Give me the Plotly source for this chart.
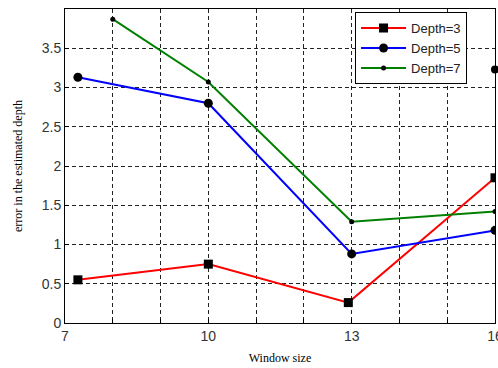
import plotly.graph_objects as go

window = [7.27, 10, 12.93, 16]
depth3 = [0.55, 0.75, 0.26, 1.85]
win5 = [7.27, 10, 13, 16]
depth5 = [3.13, 2.80, 0.88, 1.18]
win7 = [8, 10, 13, 16]
depth7 = [3.87, 3.07, 1.29, 1.42]
extra_x = [16]
extra_y = [3.23]

xtick_vals = list(range(7, 17))
xtick_text = ["7", "", "", "10", "", "", "13", "", "", "16"]
ytick_vals = [0, 0.5, 1, 1.5, 2, 2.5, 3, 3.5, 4]
ytick_text = ["0", "0.5", "1", "1.5", "2", "2.5", "3", "3.5", ""]

fig = go.Figure()
fig.add_trace(go.Scatter(x=window, y=depth3, mode="lines+markers", name="Depth=3",
                         line=dict(color="#ff0000", width=2),
                         marker=dict(symbol="square", size=9, color="black")))
fig.add_trace(go.Scatter(x=win5, y=depth5, mode="lines+markers", name="Depth=5",
                         line=dict(color="#0000ff", width=2),
                         marker=dict(symbol="circle", size=9, color="black")))
fig.add_trace(go.Scatter(x=win7, y=depth7, mode="lines+markers", name="Depth=7",
                         line=dict(color="#008000", width=2),
                         marker=dict(symbol="circle", size=5, color="black")))
fig.add_trace(go.Scatter(x=extra_x, y=extra_y, mode="markers", showlegend=False,
                         marker=dict(symbol="circle", size=8, color="black"),
                         cliponaxis=False))

axis_common = dict(showgrid=True, gridcolor="#222222", griddash="4px,3px", gridwidth=1,
                   showline=True, linecolor="black", linewidth=1, mirror=True,
                   zeroline=False, ticks="inside", ticklen=4, tickcolor="black",
                   ticklabeloverflow="allow",
                   tickfont=dict(family="Liberation Sans, Arial", size=14, color="#333333"))

fig.update_xaxes(range=[7, 16], tickvals=xtick_vals, ticktext=xtick_text,
                 title=dict(text="Window size", standoff=10,
                            font=dict(family="Liberation Serif, Times New Roman", size=12, color="black")),
                 **axis_common)
fig.update_yaxes(range=[0, 4], tickvals=ytick_vals, ticktext=ytick_text,
                 title=dict(text="error in the estimated depth", standoff=16,
                            font=dict(family="Liberation Serif, Times New Roman", size=12, color="black")),
                 **axis_common)

fig.update_layout(width=498, height=368,
                  margin=dict(l=65, r=3, t=9, b=45, autoexpand=False),
                  plot_bgcolor="white", paper_bgcolor="white",
                  legend=dict(x=0.935, y=0.99, xanchor="right", yanchor="top",
                              bgcolor="white", bordercolor="black", borderwidth=1,
                              font=dict(family="Liberation Sans, Arial", size=13, color="#222222"),
                              tracegroupgap=0, itemwidth=45))

fig.write_html("out.html", config={"displayModeBar": False},
               post_script="document.body.style.margin='0';")
